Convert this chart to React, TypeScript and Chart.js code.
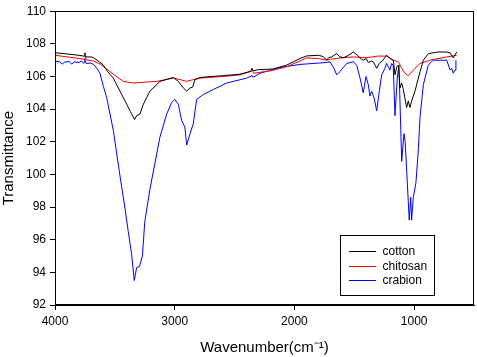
import React, { useEffect, useRef } from "react";
import { Chart, registerables } from "chart.js";

Chart.register(...registerables);

const seriesNames = ["cotton", "chitosan", "crabion"];
const seriesColors = ["#000000", "#ff0000", "#0000ff"];

const xTicks = [4000, 3000, 2000, 1000];
const yTicksMin = 92;
const yTicksMax = 110;

const cottonWn = [4000, 3900, 3800, 3755, 3750, 3745, 3700, 3680, 3630, 3596, 3560, 3513, 3457, 3401, 3370, 3335, 3318, 3290, 3262, 3207, 3123, 3012, 2970, 2928, 2900, 2872, 2850, 2831, 2790, 2600, 2455, 2365, 2355, 2345, 2300, 2176, 2065, 1953, 1898, 1800, 1759, 1731, 1715, 1689, 1647, 1620, 1592, 1560, 1508, 1466, 1440, 1425, 1400, 1383, 1360, 1341, 1313, 1291, 1260, 1230, 1200, 1174, 1160, 1145, 1132, 1118, 1104, 1090, 1063, 1049, 1035, 1021, 993, 965, 950, 923, 882, 800, 728, 700, 673, 660, 645];
const cottonT = [107.46, 107.38, 107.3, 107.24, 107.45, 107.2, 107.2, 107.16, 106.9, 106.7, 106.3, 105.9, 105.1, 104.3, 103.85, 103.36, 103.6, 103.7, 104.3, 105.1, 105.7, 105.94, 105.7, 105.3, 105.1, 105.3, 105.35, 105.8, 105.94, 106.05, 106.14, 106.32, 106.5, 106.35, 106.42, 106.46, 106.7, 107.1, 107.26, 107.3, 107.22, 107.0, 107.15, 107.2, 107.4, 107.2, 107.15, 107.25, 107.5, 107.25, 107.05, 107.0, 107.1, 106.85, 106.95, 106.9, 106.5, 106.8, 107.0, 107.3, 107.1, 107.0, 106.1, 106.6, 106.7, 105.3, 105.6, 105.2, 104.1, 104.5, 104.1, 104.5, 105.1, 105.9, 106.3, 107.0, 107.4, 107.5, 107.5, 107.44, 107.14, 107.3, 107.5];

const chitosanWn = [4000, 3900, 3800, 3752, 3748, 3744, 3680, 3620, 3541, 3480, 3429, 3346, 3250, 3150, 3012, 2950, 2900, 2850, 2789, 2600, 2455, 2350, 2340, 2200, 2065, 1953, 1898, 1800, 1731, 1700, 1650, 1600, 1508, 1400, 1300, 1230, 1174, 1132, 1104, 1077, 1049, 1030, 993, 951, 868, 728, 645];
const chitosanT = [107.3, 107.2, 107.1, 107.04, 107.15, 107.02, 106.95, 106.75, 106.3, 105.95, 105.7, 105.6, 105.65, 105.7, 105.9, 105.8, 105.7, 105.8, 105.9, 106.0, 106.1, 106.35, 106.2, 106.35, 106.6, 106.95, 107.14, 107.1, 107.0, 107.06, 107.1, 107.15, 107.2, 107.15, 107.25, 107.25, 107.0, 106.9, 106.5, 106.2, 106.05, 106.2, 106.5, 106.8, 107.0, 107.2, 107.3];

const crabionWn = [4000, 3960, 3940, 3920, 3880, 3860, 3840, 3800, 3780, 3760, 3750, 3740, 3700, 3680, 3650, 3624, 3596, 3568, 3513, 3457, 3415, 3388, 3360, 3338, 3318, 3295, 3270, 3250, 3207, 3165, 3123, 3067, 3026, 3000, 2970, 2942, 2915, 2900, 2872, 2845, 2817, 2761, 2678, 2566, 2400, 2352, 2345, 2288, 2121, 1953, 1800, 1731, 1703, 1670, 1647, 1620, 1564, 1508, 1480, 1452, 1425, 1402, 1383, 1369, 1355, 1335, 1313, 1291, 1271, 1244, 1230, 1202, 1188, 1175, 1160, 1141, 1127, 1104, 1085, 1075, 1041, 1029, 1021, 1007, 985, 965, 951, 923, 882, 840, 728, 700, 686, 673, 658, 651];
const crabionT = [106.94, 106.9, 106.75, 106.88, 106.92, 106.75, 106.9, 106.85, 106.95, 106.8, 107.0, 106.8, 106.82, 106.75, 106.5, 106.2, 105.4, 104.7, 102.7, 99.9, 97.9, 96.5, 95.1, 93.5, 94.3, 94.35, 95.0, 97.1, 99.1, 100.7, 102.3, 103.7, 104.4, 104.6, 104.3, 103.3, 102.9, 101.8, 102.5, 103.1, 104.6, 104.9, 105.2, 105.6, 105.9, 106.05, 105.95, 106.2, 106.55, 106.74, 106.82, 106.86, 106.9, 106.5, 106.1, 106.3, 106.8, 106.9, 106.7, 105.9, 105.0, 106.0, 105.5, 104.8, 105.1, 104.7, 103.9, 105.1, 106.1, 106.5, 106.8, 106.4, 106.8, 106.7, 103.6, 105.9, 106.7, 100.8, 102.5, 102.0, 97.2, 98.6, 97.2, 98.6, 99.5, 101.5, 103.5, 105.5, 106.7, 107.0, 107.0, 106.4, 106.5, 106.2, 106.4, 107.0];

const toPoints = (wn: number[], t: number[]) => wn.map((x, i) => ({ x, y: t[i] }));

const FONT = "'Liberation Sans', Arial, sans-serif";

const framePlugin = {
  id: "frameLegend",
  afterDraw(chart: any) {
    const { ctx, chartArea: a } = chart;
    ctx.save();
    ctx.strokeStyle = "#000";
    ctx.lineWidth = 1;
    ctx.strokeRect(Math.round(a.left) + 0.5, Math.round(a.top) + 0.5, Math.round(a.right - a.left) - 1, Math.round(a.bottom - a.top) - 1);
    const bx = Math.round(a.right) - 133.5;
    const by = Math.round(a.bottom) - 69.5;
    const bw = 94;
    const bh = 60;
    ctx.strokeStyle = "#000";
    ctx.strokeRect(bx, by, bw, bh);
    ctx.font = "12px " + FONT;
    ctx.textBaseline = "middle";
    ctx.textAlign = "left";
    chart.data.datasets.forEach((ds: any, i: number) => {
      const y = Math.round(by + 15.5 + i * 14.5) + 0.5;
      ctx.strokeStyle = ds.borderColor;
      ctx.beginPath();
      ctx.moveTo(bx + 8.5, y);
      ctx.lineTo(bx + 35.5, y);
      ctx.stroke();
      ctx.fillStyle = "#000";
      ctx.fillText(ds.label, bx + 42, y);
    });
    ctx.restore();
  },
};

export default function App() {
  const ref = useRef<HTMLCanvasElement>(null);
  useEffect(() => {
    if (!ref.current) return;
    const font = { family: FONT, size: 12 };
    const chart = new Chart(ref.current, {
      type: "line",
      data: {
        datasets: [
          { label: seriesNames[0], data: toPoints(cottonWn, cottonT), borderColor: seriesColors[0] },
          { label: seriesNames[1], data: toPoints(chitosanWn, chitosanT), borderColor: seriesColors[1] },
          { label: seriesNames[2], data: toPoints(crabionWn, crabionT), borderColor: seriesColors[2] },
        ].map((d) => ({ ...d, borderWidth: 1, pointRadius: 0, tension: 0, fill: false })),
      },
      options: {
        animation: false,
        responsive: false,
        layout: { padding: { top: 5, right: 3, left: 0, bottom: 0 } },
        plugins: { legend: { display: false }, tooltip: { enabled: false } },
        scales: {
          x: {
            type: "linear",
            reverse: true,
            min: 500,
            max: 4000,
            afterBuildTicks: (s: any) => {
              s.ticks = xTicks.map((v) => ({ value: v }));
            },
            afterFit: (s: any) => {
              s.height = 52;
            },
            ticks: { color: "#000", font, padding: 4, maxRotation: 0, autoSkip: false, callback: (v: any) => String(v) },
            grid: { drawOnChartArea: false, drawTicks: true, tickLength: 5, color: "#000" },
            border: { display: true, color: "#000" },
            title: {
              display: true,
              text: "Wavenumber(cm⁻¹)",
              color: "#000",
              font: { family: FONT, size: 15 },
              padding: 0,
            },
          },
          y: {
            min: yTicksMin,
            max: yTicksMax,
            ticks: { stepSize: 2, color: "#000", font, padding: 4, callback: (v: any) => String(v) },
            afterFit: (s: any) => {
              s.width = 55;
            },
            grid: { drawOnChartArea: false, drawTicks: true, tickLength: 5, color: "#000" },
            border: { display: true, color: "#000" },
            title: {
              display: true,
              text: "Transmittance",
              color: "#000",
              font: { family: FONT, size: 15 },
              padding: 0,
            },
          },
        },
      },
      plugins: [framePlugin],
    });
    return () => chart.destroy();
  }, []);
  return (
    <div style={{ position: "fixed", left: 0, top: 0, width: 477, height: 357, background: "#fff" }}>
      <canvas ref={ref} width={477} height={357} style={{ display: "block" }} />
    </div>
  );
}
